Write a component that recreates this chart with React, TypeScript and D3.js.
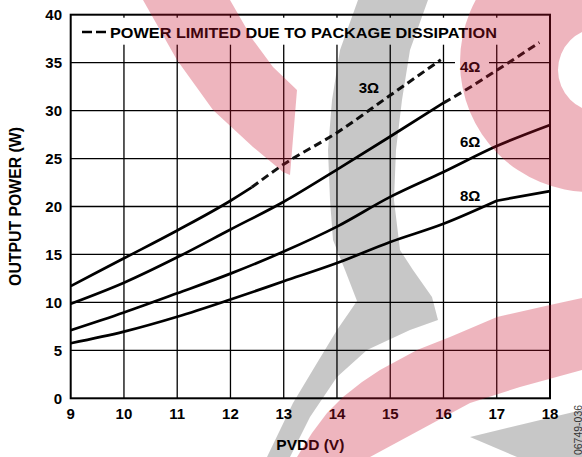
import React from "react";
import * as d3 from "d3";

// ---- data ----
const xTicks = [9, 10, 11, 12, 13, 14, 15, 16, 17, 18];
const yTicks = [0, 5, 10, 15, 20, 25, 30, 35, 40];

const ohm3Solid: [number, number][] = [[9, 11.7], [10, 14.6], [11, 17.5], [12, 20.6], [12.4, 22.0]];
const ohm3Dashed: [number, number][] = [[12.4, 22.0], [13, 24.4], [14, 27.7], [15, 31.6], [15.95, 35.3]];
const ohm4Solid: [number, number][] = [[9, 9.85], [10, 12.05], [11, 14.7], [12, 17.6], [13, 20.5], [14, 23.85], [15, 27.3], [16, 30.8]];
const ohm4Dashed: [number, number][] = [[16, 30.8], [16.43, 32.2], [17, 34.2], [17.8, 37.1]];
const ohm6: [number, number][] = [[9, 7.1], [10, 8.95], [11, 10.95], [12, 13.0], [13, 15.3], [14, 17.9], [15, 21.0], [16, 23.6], [17, 26.3], [18, 28.5]];
const ohm8a: [number, number][] = [[9, 5.74], [10, 6.95], [11, 8.5], [12, 10.3], [13, 12.2], [14, 14.1], [15, 16.3], [16, 18.2], [17, 20.6]];
const ohm8b: [number, number][] = [[17, 20.6], [18, 21.6]];

const curveLabels = [
  { text: "3Ω", x: 14.6, y: 31.8 },
  { text: "4Ω", x: 16.5, y: 34.0 },
  { text: "6Ω", x: 16.5, y: 26.25 },
  { text: "8Ω", x: 16.5, y: 20.55 },
];

const legendText = "POWER LIMITED DUE TO PACKAGE DISSIPATION";
const xTitle = "PVDD (V)";
const yTitle = "OUTPUT POWER (W)";
const figCode = "06749-036";

// ---- watermark decoration (background artwork) ----
const pinkTopLeft = "M143,0 L230,0 L253,40 L273,67 L297,90 L290,175 L283,172 L253,147 L213,110 L177,60 Z";
const pinkBand =
  "M297,457 L312,433 L327,413 L343,397 L362,382 L380,370 L417,350 L450,337 L497,317 L550,305 L582,298 L582,370 L520,387 L470,403 L420,430 L370,457 Z";
const grayBand =
  "M358,0 L428,0 L410,50 L402,100 L396,150 L394,200 L400,250 L413,270 L432,297 L438,320 L410,330 L367,350 L337,377 L310,417 L290,457 L267,457 L293,403 L317,363 L337,330 L357,301 L345,270 L333,240 L330,200 L328,150 L332,100 L340,50 Z";
const grayWedge = "M470,437 L582,410 L582,457 L517,457 Z";

const W = 582;
const H = 457;
const FONT = "'Liberation Sans', Arial, Helvetica, sans-serif";

export default function App() {
  const x = d3.scaleLinear().domain([9, 18]).range([70.7, 550]);
  const y = d3.scaleLinear().domain([0, 40]).range([398.3, 14.7]);

  const line = d3
    .line<[number, number]>()
    .x((d) => x(d[0]))
    .y((d) => y(d[1]))
    .curve(d3.curveMonotoneX);

  const ringPath = (() => {
    const p = d3.path();
    p.moveTo(590 + 130, 62);
    p.arc(590, 62, 130, 0, Math.PI * 2);
    p.closePath();
    p.moveTo(600 + 42, 70);
    p.arc(600, 70, 42, 0, Math.PI * 2);
    p.closePath();
    return p.toString();
  })();

  const x0 = x(9);
  const x1 = x(18);
  const yb = y(0);
  const yt = y(40);

  return (
    <svg
      width={W}
      height={H}
      style={{ position: "absolute", left: 0, top: 0, background: "#fff" }}
      fontFamily={FONT}
    >
      <rect x={0} y={0} width={W} height={H} fill="#fff" />

      {/* grid */}
      {xTicks.slice(1, -1).map((t) => (
        <line key={"vx" + t} x1={x(t)} x2={x(t)} y1={yb} y2={yt} stroke="#000" strokeWidth={1.3} />
      ))}
      {yTicks.slice(1, -1).map((t) => (
        <line key={"hy" + t} x1={x0} x2={x1} y1={y(t)} y2={y(t)} stroke="#000" strokeWidth={1.3} />
      ))}

      {/* legend background */}
      <rect x={x0 + 1} y={yt + 3} width={x1 - x0 - 2} height={27} fill="#fff" />
      {/* 4Ω label background */}
      <rect x={455} y={56} width={34} height={12} fill="#fff" />

      {/* frame */}
      <rect x={x0} y={yt} width={x1 - x0} height={yb - yt} fill="none" stroke="#000" strokeWidth={2} />

      {/* legend */}
      <line x1={82} x2={107} y1={32} y2={32} stroke="#000" strokeWidth={2.6} strokeDasharray="10,4" />
      <text
        x={110}
        y={37.8}
        fontSize={15}
        fontWeight="bold"
        fill="#000"
        textLength={387}
        lengthAdjust="spacingAndGlyphs"
      >
        {legendText}
      </text>

      {/* curves */}
      {[ohm3Solid, ohm4Solid, ohm6, ohm8a].map((s, i) => (
        <path key={"s" + i} d={line(s) || ""} fill="none" stroke="#000" strokeWidth={2.7} />
      ))}
      <path d={d3.line<[number, number]>().x((d) => x(d[0])).y((d) => y(d[1]))(ohm8b) || ""} fill="none" stroke="#000" strokeWidth={2.7} />
      {[ohm3Dashed, ohm4Dashed].map((s, i) => (
        <path
          key={"d" + i}
          d={line(s) || ""}
          fill="none"
          stroke="#111"
          strokeWidth={3}
          strokeDasharray="8,4.5"
        />
      ))}

      {/* curve labels */}
      {curveLabels.map((l) => (
        <text key={l.text} x={x(l.x)} y={y(l.y)} fontSize={15} fontWeight="bold" textAnchor="middle" fill="#000">
          {l.text}
        </text>
      ))}

      {/* y ticks */}
      {yTicks.map((t) => (
        <text key={"yl" + t} x={62} y={y(t) + 5.4} fontSize={15} fontWeight="bold" textAnchor="end" fill="#000">
          {t}
        </text>
      ))}
      {/* x ticks */}
      {xTicks.map((t) => (
        <text key={"xl" + t} x={x(t)} y={419} fontSize={15} fontWeight="bold" textAnchor="middle" fill="#000">
          {t}
        </text>
      ))}

      {/* axis titles */}
      <text x={(x0 + x1) / 2} y={450} fontSize={15.5} fontWeight="bold" textAnchor="middle" fill="#000">
        {xTitle}
      </text>
      <text
        transform={`translate(20.5,${(yt + yb) / 2}) rotate(-90)`}
        fontSize={15.8}
        fontWeight="bold"
        textAnchor="middle"
        fill="#000"
      >
        {yTitle}
      </text>
      <text
        transform={`translate(581.5,430) rotate(-90)`}
        fontSize={10.5}
        textAnchor="middle"
        fill="#444"
      >
        {figCode}
      </text>

      {/* watermark overlay */}
      <g style={{ pointerEvents: "none" }}>
        <path d={grayBand} fill="#000" fillOpacity={0.22} />
        <path d={grayWedge} fill="#000" fillOpacity={0.22} />
        <path d={pinkTopLeft} fill="rgb(200,16,46)" fillOpacity={0.31} />
        <path d={pinkBand} fill="rgb(200,16,46)" fillOpacity={0.31} />
        <path d={ringPath} fill="rgb(200,16,46)" fillOpacity={0.31} fillRule="evenodd" />
      </g>
    </svg>
  );
}
